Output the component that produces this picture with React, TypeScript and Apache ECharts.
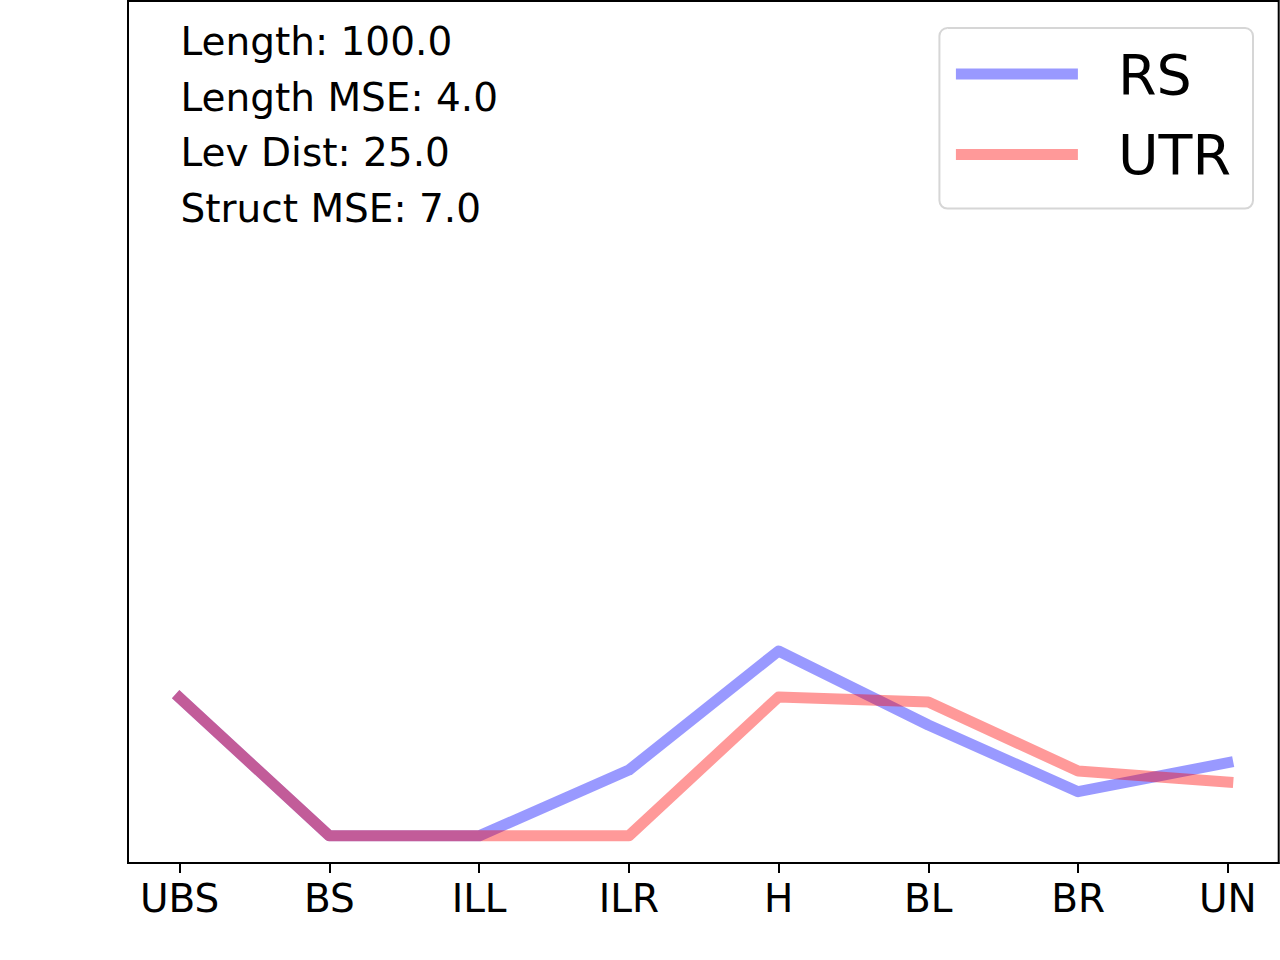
import React, { useEffect, useRef } from 'react';
import * as echarts from 'echarts';

const categories = ['UBS', 'BS', 'ILL', 'ILR', 'H', 'BL', 'BR', 'UN'];
const rsValues = [3.0, 0, 0, 1.43, 4.02, 2.41, 0.96, 1.59];
const utrValues = [3.0, 0, 0, 0, 3.02, 2.91, 1.41, 1.17];
const seriesNames = ['RS', 'UTR'];
const statNames = ['Length', 'Length MSE', 'Lev Dist', 'Struct MSE'];
const statValues = [100, 4, 25, 7];

const FONT = 'DejaVu Sans';
const RS_COLOR = 'rgba(0,0,255,0.4)';
const UTR_COLOR = 'rgba(255,0,0,0.4)';

const App: React.FC = () => {
  const chartRef = useRef<HTMLDivElement>(null);

  useEffect(() => {
    if (!chartRef.current) return;

    const chart = echarts.init(chartRef.current, undefined, { renderer: 'svg' });
    const ticks = categories.map((_, i) => i);

    const lineSeries = (name: string, values: number[], color: string) => ({
      name,
      type: 'line',
      data: values.map((v, i) => [i, v]),
      symbol: 'none',
      lineStyle: { color, width: 11, cap: 'square', join: 'round' },
      itemStyle: { color },
    });

    const options: any = {
      animation: false,
      backgroundColor: '#fff',
      grid: {
        left: 128, top: 1, right: 1.3, bottom: 97,
        show: true, borderColor: '#000', borderWidth: 2,
      },
      xAxis: {
        type: 'value',
        min: -0.345,
        max: 7.34,
        axisLine: { show: true, onZero: false, lineStyle: { color: '#000', width: 2 } },
        axisTick: { show: true, customValues: ticks, length: 10, lineStyle: { color: '#000', width: 2 } },
        axisLabel: {
          customValues: ticks,
          formatter: (v: number) => categories[Math.round(v)] ?? '',
          fontSize: 39,
          fontFamily: FONT,
          color: '#000',
          margin: 16,
        },
        splitLine: { show: false },
      },
      yAxis: {
        type: 'value',
        min: -0.59,
        max: 18.15,
        axisLine: { show: false },
        axisTick: { show: false },
        axisLabel: { show: false },
        splitLine: { show: false },
      },
      legend: {
        data: seriesNames,
        orient: 'vertical',
        right: 27,
        top: 28,
        align: 'left',
        selectedMode: false,
        itemWidth: 111,
        itemHeight: 11,
        itemGap: 24.6,
        padding: [18, 22, 26, 16.5],
        backgroundColor: '#fff',
        borderColor: '#d6d6d6',
        borderWidth: 2,
        borderRadius: 8,
        lineStyle: { width: 11 },
        itemStyle: { opacity: 0 },
        textStyle: { fontSize: 55.5, fontFamily: FONT, color: '#000', padding: [0, 0, 0, 40.5] },
      },
      graphic: statNames.map((name, i) => ({
        type: 'text',
        x: 180.5,
        y: 41.7 + i * 55.5,
        style: {
          text: `${name}: ${statValues[i].toFixed(1)}`,
          font: `39px "${FONT}"`,
          fill: '#000',
          align: 'left',
          verticalAlign: 'middle',
        },
      })),
      series: [
        lineSeries(seriesNames[0], rsValues, RS_COLOR),
        lineSeries(seriesNames[1], utrValues, UTR_COLOR),
      ],
    };

    chart.setOption(options);

    return () => {
      chart.dispose();
    };
  }, []);

  return (
    <div
      ref={chartRef}
      style={{ position: 'absolute', left: 0, top: 0, width: 1280, height: 960 }}
    />
  );
};

export default App;
